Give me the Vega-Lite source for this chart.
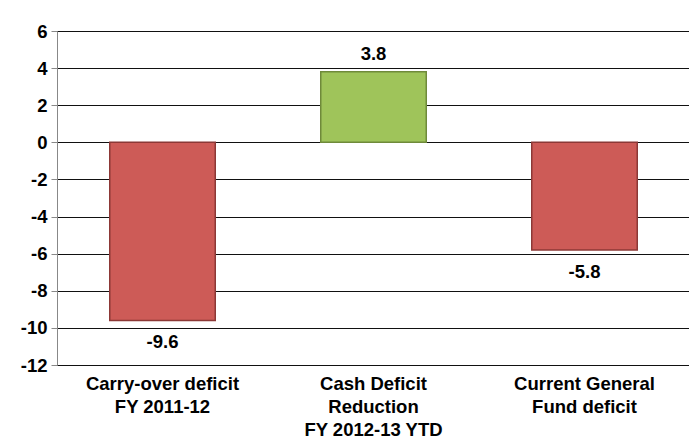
{
  "$schema": "https://vega.github.io/schema/vega-lite/v6.json",
  "width": 633,
  "height": 334,
  "autosize": {"type": "none"},
  "padding": {"left": 57, "top": 31, "right": 0, "bottom": 75},
  "background": "white",
  "config": {
    "font": "Liberation Sans",
    "view": {"stroke": "#111111", "strokeWidth": 1}
  },
  "data": {
    "values": [
      {"category": "Carry-over deficit\nFY 2011-12", "value": -9.6, "label": "-9.6", "type": "neg"},
      {"category": "Cash Deficit\nReduction\nFY 2012-13 YTD", "value": 3.8, "label": "3.8", "type": "pos"},
      {"category": "Current General\nFund deficit", "value": -5.8, "label": "-5.8", "type": "neg"}
    ]
  },
  "encoding": {
    "x": {
      "field": "category",
      "type": "nominal",
      "sort": null,
      "scale": {"paddingInner": 0.5, "paddingOuter": 0.25},
      "axis": {
        "title": null,
        "labelAngle": 0,
        "labelExpr": "split(datum.label, '\\n')",
        "labelFont": "Liberation Sans",
        "labelFontWeight": "bold",
        "labelFontSize": 18.5,
        "labelColor": "#000000",
        "labelLineHeight": 23,
        "labelPadding": 9,
        "labelBaseline": "top",
        "domain": false,
        "ticks": false,
        "orient": "bottom"
      }
    },
    "y": {
      "field": "value",
      "type": "quantitative",
      "scale": {"domain": [-12, 6], "nice": false},
      "axis": {
        "title": null,
        "values": [-12, -10, -8, -6, -4, -2, 0, 2, 4, 6],
        "labelExpr": "'' + datum.value",
        "labelOverlap": false,
        "labelFlush": false,
        "labelFont": "Liberation Sans",
        "labelFontWeight": "bold",
        "labelFontSize": 18.5,
        "labelColor": "#000000",
        "labelPadding": 4,
        "tickSize": 6,
        "tickColor": "#888888",
        "domainColor": "#888888",
        "gridColor": "#111111",
        "gridOpacity": 1,
        "grid": true
      }
    }
  },
  "layer": [
    {
      "mark": {"type": "bar", "strokeWidth": 1.5},
      "encoding": {
        "color": {
          "field": "type",
          "type": "nominal",
          "scale": {"domain": ["neg", "pos"], "range": ["#cd5b57", "#9fc45a"]},
          "legend": null
        },
        "stroke": {
          "field": "type",
          "type": "nominal",
          "scale": {"domain": ["neg", "pos"], "range": ["#8c3836", "#6f8a3a"]},
          "legend": null
        }
      }
    },
    {
      "transform": [{"filter": "datum.value >= 0"}],
      "mark": {"type": "text", "font": "Liberation Sans", "fontWeight": "bold", "fontSize": 18.5, "baseline": "alphabetic", "dy": -12, "color": "#000000"},
      "encoding": {
        "text": {"field": "label"}
      }
    },
    {
      "transform": [{"filter": "datum.value < 0"}],
      "mark": {"type": "text", "font": "Liberation Sans", "fontWeight": "bold", "fontSize": 18.5, "baseline": "top", "dy": 13, "color": "#000000"},
      "encoding": {
        "text": {"field": "label"}
      }
    }
  ]
}
